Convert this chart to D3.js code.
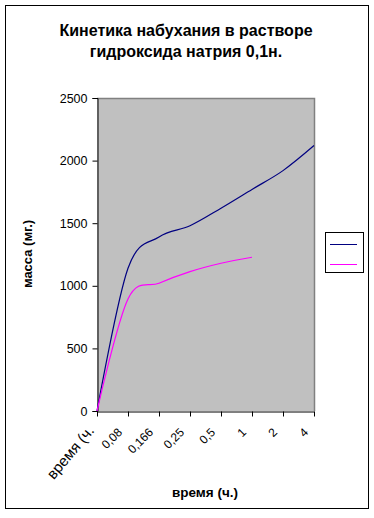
<!DOCTYPE html>
<html>
<head>
<meta charset="utf-8">
<script src="https://cdnjs.cloudflare.com/ajax/libs/d3/7.8.5/d3.min.js"></script>
<style>
	body { margin: 0; background: #fff; }
	text { font-family: Arial, "Liberation Sans", sans-serif; }
</style>
</head>
<body>
<div class="chart-area"></div>
<script>
var categories = ['время (ч.', '0,08', '0,166', '0,25', '0,5', '1', '2', '4'];
var seriesBlue = [0, 1140, 1390, 1480, 1620, 1770, 1920, 2120];
var seriesPink = [0, 895, 1020, 1113, 1180, 1228];
var yTicks = [0, 500, 1000, 1500, 2000, 2500];

var width = 374;
var height = 518;

var svg = d3.select('.chart-area').append('svg:svg')
	.attr('width', width)
	.attr('height', height);

// chart border
svg.append('svg:rect')
	.attr('x', 5.5)
	.attr('y', 5.5)
	.attr('width', 363)
	.attr('height', 503)
	.attr('fill', '#fff')
	.attr('stroke', '#000')
	.attr('stroke-width', 1);

// plot area edges (window.top is reserved, so plot* names)
var plotLeft = 97, plotRight = 314, plotTop = 98, plotBottom = 411;

var x = d3.scalePoint()
	.domain(categories)
	.range([plotLeft, plotRight])
	.padding(0);

var y = d3.scaleLinear()
	.domain([0, 2500])
	.range([plotBottom, plotTop]);

svg.append('svg:rect')
	.attr('x', plotLeft)
	.attr('y', plotTop)
	.attr('width', plotRight - plotLeft)
	.attr('height', plotBottom - plotTop)
	.attr('fill', '#c0c0c0');
svg.append('svg:path')
	.attr('d', 'M' + plotLeft + ',' + (plotTop + 0.5) + 'H' + (plotRight + 0.5) + 'V' + plotBottom)
	.attr('fill', 'none')
	.attr('stroke', '#808080')
	.attr('stroke-width', 1.5);

// title
var title = svg.append('svg:text')
	.attr('text-anchor', 'middle')
	.attr('font-size', 16)
	.attr('font-weight', 'bold');
title.append('svg:tspan').attr('x', 186).attr('y', 36).text('Кинетика набухания в растворе');
title.append('svg:tspan').attr('x', 186).attr('y', 57).text('гидроксида натрия 0,1н.');

// y axis
var yAxis = svg.append('svg:g')
	.attr('transform', 'translate(' + (plotLeft + 0.5) + ',0)')
	.call(d3.axisLeft(y).tickValues(yTicks).tickSize(5).tickPadding(5).tickFormat(d3.format('d')));
yAxis.select('.domain').attr('stroke', '#000');
yAxis.selectAll('line').attr('stroke', '#000');
yAxis.selectAll('text')
	.attr('font-size', 12.5)
	.attr('font-family', 'Arial, "Liberation Sans", sans-serif')
	.attr('fill', '#000');

// x axis
var xAxis = svg.append('svg:g')
	.attr('transform', 'translate(0,' + (plotBottom + 0.5) + ')')
	.call(d3.axisBottom(x).tickSize(5).tickSizeOuter(0).tickFormat(''));
xAxis.select('.domain').attr('stroke', '#000');
xAxis.selectAll('line').attr('stroke', '#000');

svg.append('svg:g')
	.selectAll('text')
	.data(categories)
	.enter().append('svg:text')
	.attr('transform', function(d, i) {
		if (i === 0) { return 'translate(' + (x(d) - 2) + ',431) rotate(-50)'; }
		return 'translate(' + (x(d) - 5) + ',433) rotate(-45)';
	})
	.attr('text-anchor', 'end')
	.attr('font-size', function(d, i) { return i === 0 ? 15 : 12; })
	.text(function(d) { return d; });

// axis titles
svg.append('svg:text')
	.attr('x', 205)
	.attr('y', 497)
	.attr('text-anchor', 'middle')
	.attr('font-size', 13.5)
	.attr('font-weight', 'bold')
	.text('время (ч.)');
svg.append('svg:text')
	.attr('transform', 'translate(32,254) rotate(-90)')
	.attr('text-anchor', 'middle')
	.attr('font-size', 13)
	.attr('font-weight', 'bold')
	.text('масса (мг.)');

// lines
var line = d3.line()
	.x(function(d, i) { return x(categories[i]); })
	.y(function(d) { return y(d); })
	.curve(d3.curveCardinal.tension(0));

svg.append('svg:path')
	.datum(seriesBlue)
	.attr('d', line)
	.attr('fill', 'none')
	.attr('stroke', '#000080')
	.attr('stroke-width', 1.2);
svg.append('svg:path')
	.datum(seriesPink)
	.attr('d', line)
	.attr('fill', 'none')
	.attr('stroke', '#ff00ff')
	.attr('stroke-width', 1.2);

// legend
var legend = svg.append('svg:g');
legend.append('svg:rect')
	.attr('x', 325.5)
	.attr('y', 232.5)
	.attr('width', 38)
	.attr('height', 40)
	.attr('fill', '#fff')
	.attr('stroke', '#000');
legend.append('svg:line')
	.attr('x1', 330).attr('x2', 357)
	.attr('y1', 244.5).attr('y2', 244.5)
	.attr('stroke', '#000080');
legend.append('svg:line')
	.attr('x1', 330).attr('x2', 357)
	.attr('y1', 264.5).attr('y2', 264.5)
	.attr('stroke', '#ff00ff');
</script>
</body>
</html>
